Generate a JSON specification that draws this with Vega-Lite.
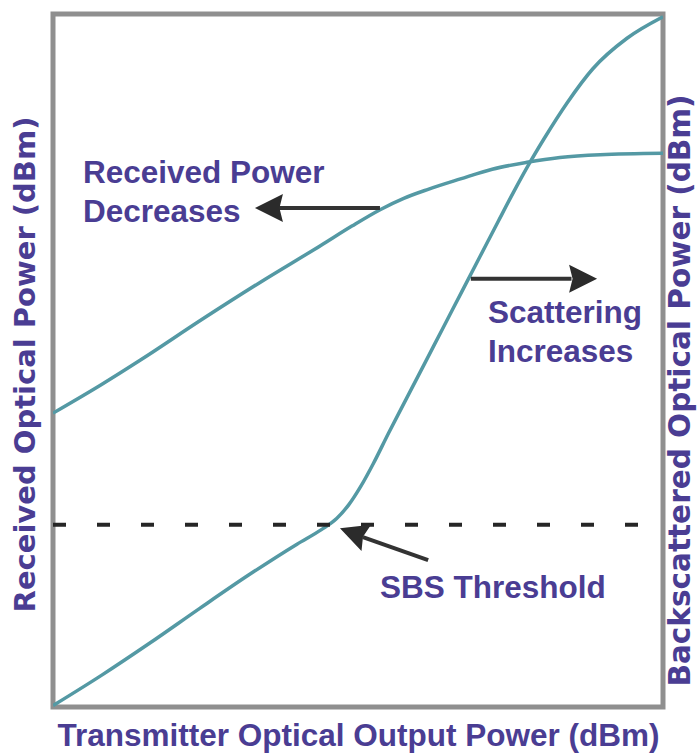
{
  "$schema": "https://vega.github.io/schema/vega-lite/v6.json",
  "width": 610,
  "height": 693,
  "autosize": {"type": "none"},
  "padding": {"left": 53, "top": 14, "right": 35, "bottom": 46},
  "background": "white",
  "config": {
    "view": {"stroke": "#8f8f8f", "strokeWidth": 5},
    "axis": {"domain": false, "ticks": false, "labels": false, "grid": false, "titleColor": "#4a3d93", "titleFontWeight": "bold"}
  },
  "resolve": {"scale": {"y": "shared"}, "axis": {"y": "independent"}},
  "layer": [
    {
      "data": {"values": [
        {"series": "Received", "x": 0, "y": 42.4},
        {"series": "Received", "x": 7.9, "y": 46.5},
        {"series": "Received", "x": 14.4, "y": 50.1},
        {"series": "Received", "x": 24.2, "y": 55.8},
        {"series": "Received", "x": 34.0, "y": 61.3},
        {"series": "Received", "x": 43.9, "y": 66.6},
        {"series": "Received", "x": 49.0, "y": 69.4},
        {"series": "Received", "x": 53.7, "y": 71.8},
        {"series": "Received", "x": 57.5, "y": 73.4},
        {"series": "Received", "x": 61.5, "y": 74.7},
        {"series": "Received", "x": 66.8, "y": 76.2},
        {"series": "Received", "x": 72.0, "y": 77.6},
        {"series": "Received", "x": 77.7, "y": 78.6},
        {"series": "Received", "x": 83.1, "y": 79.3},
        {"series": "Received", "x": 89.7, "y": 79.7},
        {"series": "Received", "x": 100, "y": 79.9},
        {"series": "Backscattered", "x": 0, "y": 0.2},
        {"series": "Backscattered", "x": 8.0, "y": 4.6},
        {"series": "Backscattered", "x": 16.0, "y": 9.3},
        {"series": "Backscattered", "x": 24.0, "y": 14.2},
        {"series": "Backscattered", "x": 32.0, "y": 19.0},
        {"series": "Backscattered", "x": 40.0, "y": 23.5},
        {"series": "Backscattered", "x": 44.0, "y": 25.6},
        {"series": "Backscattered", "x": 46.5, "y": 27.2},
        {"series": "Backscattered", "x": 48.5, "y": 29.2},
        {"series": "Backscattered", "x": 50.5, "y": 31.9},
        {"series": "Backscattered", "x": 52.5, "y": 35.1},
        {"series": "Backscattered", "x": 55.0, "y": 39.5},
        {"series": "Backscattered", "x": 58.0, "y": 44.6},
        {"series": "Backscattered", "x": 61.0, "y": 49.7},
        {"series": "Backscattered", "x": 64.0, "y": 54.8},
        {"series": "Backscattered", "x": 67.0, "y": 59.9},
        {"series": "Backscattered", "x": 70.0, "y": 65.0},
        {"series": "Backscattered", "x": 73.0, "y": 70.1},
        {"series": "Backscattered", "x": 75.5, "y": 74.3},
        {"series": "Backscattered", "x": 78.0, "y": 78.3},
        {"series": "Backscattered", "x": 80.5, "y": 82.0},
        {"series": "Backscattered", "x": 84.3, "y": 87.2},
        {"series": "Backscattered", "x": 88.5, "y": 92.1},
        {"series": "Backscattered", "x": 94.1, "y": 96.5},
        {"series": "Backscattered", "x": 100, "y": 99.6}
      ]},
      "mark": {"type": "line", "color": "#5499a4", "strokeWidth": 3.5, "interpolate": "monotone", "clip": true},
      "encoding": {
        "x": {"field": "x", "type": "quantitative", "scale": {"domain": [0, 100], "nice": false, "zero": false},
              "axis": {"title": "Transmitter Optical Output Power (dBm)", "titleFont": "Liberation Sans", "titleFontSize": 31.5, "titlePadding": 13}},
        "y": {"field": "y", "type": "quantitative", "scale": {"domain": [0, 100], "nice": false, "zero": false},
              "axis": {"orient": "left", "title": "Received Optical Power (dBm)", "titleFont": "DejaVu Sans", "titleFontSize": 29, "titlePadding": 13, "titleY": 350}},
        "detail": {"field": "series"}
      }
    },
    {
      "data": {"values": [{"label": "SBS Threshold", "x": 0, "x2": 100, "y": 26.3}]},
      "mark": {"type": "rule", "color": "#262626", "strokeWidth": 4, "strokeDash": [13, 31]},
      "encoding": {
        "x": {"field": "x", "type": "quantitative"},
        "x2": {"field": "x2"},
        "y": {"field": "y", "type": "quantitative",
              "axis": {"orient": "right", "title": "Backscattered Optical Power (dBm)", "titleFont": "DejaVu Sans", "titleFontSize": 29.5, "titleAngle": 270, "titleBaseline": "top", "titlePadding": 3, "titleY": 376}}
      }
    },
    {
      "data": {"values": [
        {"arrow": "received", "x": 36.5, "x2": 53.6, "y": 72.0, "y2": 72.0},
        {"arrow": "scattering", "x": 68.5, "x2": 85.0, "y": 61.8, "y2": 61.8},
        {"arrow": "sbs", "x": 61.5, "x2": 50.8, "y": 21.2, "y2": 24.5}
      ]},
      "mark": {"type": "rule", "color": "#333333", "strokeWidth": 4},
      "encoding": {
        "x": {"field": "x", "type": "quantitative"},
        "x2": {"field": "x2"},
        "y": {"field": "y", "type": "quantitative", "axis": null},
        "y2": {"field": "y2"}
      }
    },
    {
      "data": {"values": [{"arrow": "received", "x": 35.4, "y": 72.0}]},
      "mark": {"type": "point", "shape": "M -1 0 L 1 -1 L 0.75 0 L 1 1 Z", "size": 784, "filled": true, "color": "#2b2b2b", "opacity": 1},
      "encoding": {
        "x": {"field": "x", "type": "quantitative"},
        "y": {"field": "y", "type": "quantitative", "axis": null}
      }
    },
    {
      "data": {"values": [{"arrow": "scattering", "x": 86.9, "y": 61.8}]},
      "mark": {"type": "point", "shape": "M 1 0 L -1 -1 L -0.75 0 L -1 1 Z", "size": 784, "filled": true, "color": "#2b2b2b", "opacity": 1},
      "encoding": {
        "x": {"field": "x", "type": "quantitative"},
        "y": {"field": "y", "type": "quantitative", "axis": null}
      }
    },
    {
      "data": {"values": [{"arrow": "sbs", "x": 49.2, "y": 25.1}]},
      "mark": {"type": "point", "shape": "M -1 0 L 1 -1 L 0.75 0 L 1 1 Z", "size": 784, "angle": 20, "filled": true, "color": "#2b2b2b", "opacity": 1},
      "encoding": {
        "x": {"field": "x", "type": "quantitative"},
        "y": {"field": "y", "type": "quantitative", "axis": null}
      }
    },
    {
      "data": {"values": [
        {"label": "Received Power", "x": 4.9, "y": 75.6},
        {"label": "Decreases", "x": 4.9, "y": 70.0},
        {"label": "Scattering", "x": 71.3, "y": 55.4},
        {"label": "Increases", "x": 71.3, "y": 49.8},
        {"label": "SBS Threshold", "x": 53.6, "y": 15.7}
      ]},
      "mark": {"type": "text", "align": "left", "baseline": "alphabetic", "font": "Liberation Sans", "fontWeight": "bold", "fontSize": 31.5, "color": "#4a3d93"},
      "encoding": {
        "x": {"field": "x", "type": "quantitative"},
        "y": {"field": "y", "type": "quantitative", "axis": null},
        "text": {"field": "label"}
      }
    }
  ]
}
